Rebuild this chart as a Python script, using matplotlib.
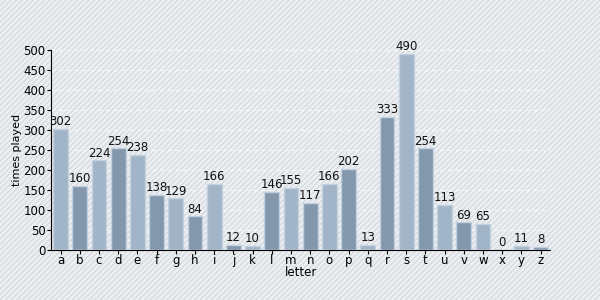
import matplotlib
matplotlib.use("Agg")
import matplotlib.pyplot as plt
import matplotlib.patches as patches

letters = list("abcdefghijklmnopqrstuvwxyz")
times_played = [302, 160, 224, 254, 238, 138, 129, 84, 166, 12, 10, 146, 155,
                117, 166, 202, 13, 333, 490, 254, 113, 69, 65, 0, 11, 8]

light = "#a2b5c8"
dark = "#8498ad"

fig = plt.figure(figsize=(6, 3), dpi=100)
fig.patch.set_facecolor("#eceff2")
plt.rcParams["hatch.color"] = "#d3d8de"
plt.rcParams["hatch.linewidth"] = 0.8
bg = patches.Rectangle((0, 0), 1, 1, transform=fig.transFigure, facecolor="#eceff2",
                       edgecolor="#d3d8de", hatch="//////", linewidth=0, zorder=-10)
fig.patches.append(bg)

ax = fig.add_axes([0.085, 0.1667, 0.832, 0.6667])
ax.set_facecolor("none")

colors = [light if i % 2 == 0 else dark for i in range(len(letters))]
x = range(len(letters))
bars = ax.bar(x, times_played, width=0.78, color=colors, edgecolor="#c3d1df", linewidth=1, zorder=3)
for xi, v in zip(x, times_played):
    ax.text(xi, v + 2, str(v), ha="center", va="bottom", fontsize=8.5, color="#111111", zorder=4)

ax.set_xlim(-0.5, len(letters) - 0.5)
ax.set_ylim(0, 500)
ax.set_yticks(range(0, 501, 50))
ax.set_xticks(list(x))
ax.set_xticklabels(letters)
ax.tick_params(axis="both", labelsize=8.5, length=3, pad=1)
ax.tick_params(axis="x", pad=0)
ax.yaxis.grid(True, color="white", linestyle=(0, (4, 4)), linewidth=0.7, alpha=0.8, zorder=0)
for s in ["top", "right"]:
    ax.spines[s].set_visible(False)
ax.set_ylabel("times played", fontsize=8, labelpad=1)
ax.set_xlabel("letter", fontsize=8.5, labelpad=-1)

fig.savefig("out.png", dpi=100, facecolor=fig.get_facecolor())
